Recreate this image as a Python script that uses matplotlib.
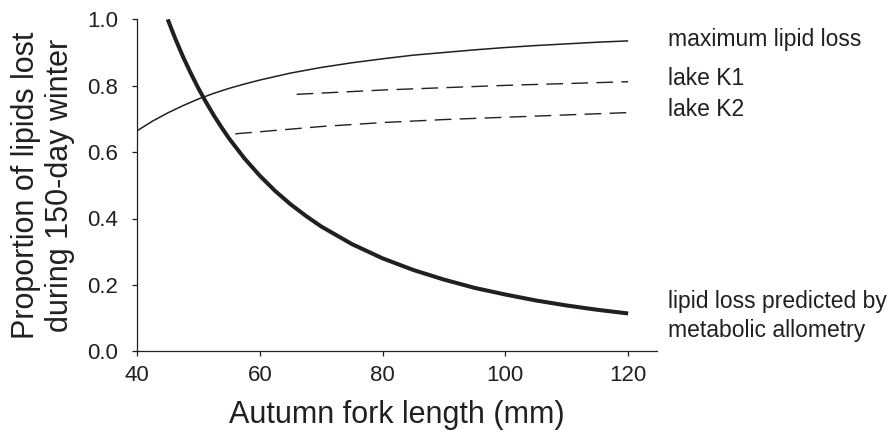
import matplotlib
matplotlib.use("Agg")
import matplotlib.pyplot as plt
from matplotlib.ticker import FormatStrFormatter

plt.rcParams['font.family'] = ['Liberation Sans', 'DejaVu Sans']

# ---- data ----
max_x = [40, 42.5, 45, 47.5, 50, 52.5, 55, 57.5, 60, 65, 70, 75, 80, 85, 90, 95, 100,
         105, 110, 115, 120]
max_y = [0.664, 0.693, 0.718, 0.740, 0.760, 0.777, 0.792, 0.805, 0.817, 0.838, 0.855,
         0.869, 0.881, 0.892, 0.900, 0.908, 0.915, 0.921, 0.926, 0.931, 0.935]

allo_x = [45, 46.25, 47.5, 48.75, 50, 51.25, 52.5, 53.75, 55, 57.5, 60, 62.5, 65, 67.5,
          70, 75, 80, 85, 90, 95, 100, 105, 110, 115, 120]
allo_y = [1.000, 0.941, 0.887, 0.838, 0.792, 0.750, 0.711, 0.675, 0.641, 0.581, 0.529,
          0.483, 0.443, 0.408, 0.376, 0.323, 0.280, 0.245, 0.216, 0.191, 0.171, 0.153,
          0.138, 0.125, 0.114]

k1_x = [66, 80, 100, 120]
k1_y = [0.774, 0.787, 0.801, 0.812]

k2_x = [56, 70, 80, 90, 100, 110, 120]
k2_y = [0.655, 0.677, 0.689, 0.698, 0.705, 0.712, 0.719]

x_ticks = [40, 60, 80, 100, 120]
y_ticks = [0.0, 0.2, 0.4, 0.6, 0.8, 1.0]

labels = ["maximum lipid loss", "lake K1", "lake K2",
          "lipid loss predicted by\nmetabolic allometry"]
label_y = [0.938, 0.823, 0.727, 0.106]

xlabel = "Autumn fork length (mm)"
ylabel = "Proportion of lipids lost\nduring 150-day winter"

# ---- drawing ----
ink = "#231f20"
fig = plt.figure(figsize=(8.93, 4.38), dpi=100)
ax = fig.add_axes([137/893, 1 - 351.3/438, 520/893, 332/438])

ax.plot(max_x, max_y, color=ink, lw=1.1, solid_capstyle='butt', solid_joinstyle='round')
ax.plot(allo_x, allo_y, color=ink, lw=2.9, solid_capstyle='butt', solid_joinstyle='round')
ax.plot(k1_x, k1_y, color=ink, lw=1.0, dashes=(12, 6))
ax.plot(k2_x, k2_y, color=ink, lw=1.0, dashes=(12, 6))

ax.set_xlim(40, 124.7)
ax.set_ylim(0, 1.0)
ax.set_xticks(x_ticks)
ax.set_yticks(y_ticks)
ax.yaxis.set_major_formatter(FormatStrFormatter('%.1f'))

for s in ['top', 'right']:
    ax.spines[s].set_visible(False)
for s in ['left', 'bottom']:
    ax.spines[s].set_color(ink)
    ax.spines[s].set_linewidth(0.9)

ax.tick_params(axis='both', direction='out', length=3.6, width=0.9,
               colors=ink, labelsize=16)
ax.tick_params(axis='y', pad=10)
ax.tick_params(axis='x', pad=6)

ax.set_xlabel(xlabel, fontsize=22, color=ink, labelpad=10)
ax.set_ylabel(ylabel, fontsize=22, color=ink, labelpad=9, linespacing=1.15)

for txt, yv in zip(labels, label_y):
    ax.text(126.5, yv, txt, fontsize=16.5, color=ink, ha='left', va='center',
            clip_on=False, linespacing=1.3)

fig.savefig("out.png", dpi=100)
